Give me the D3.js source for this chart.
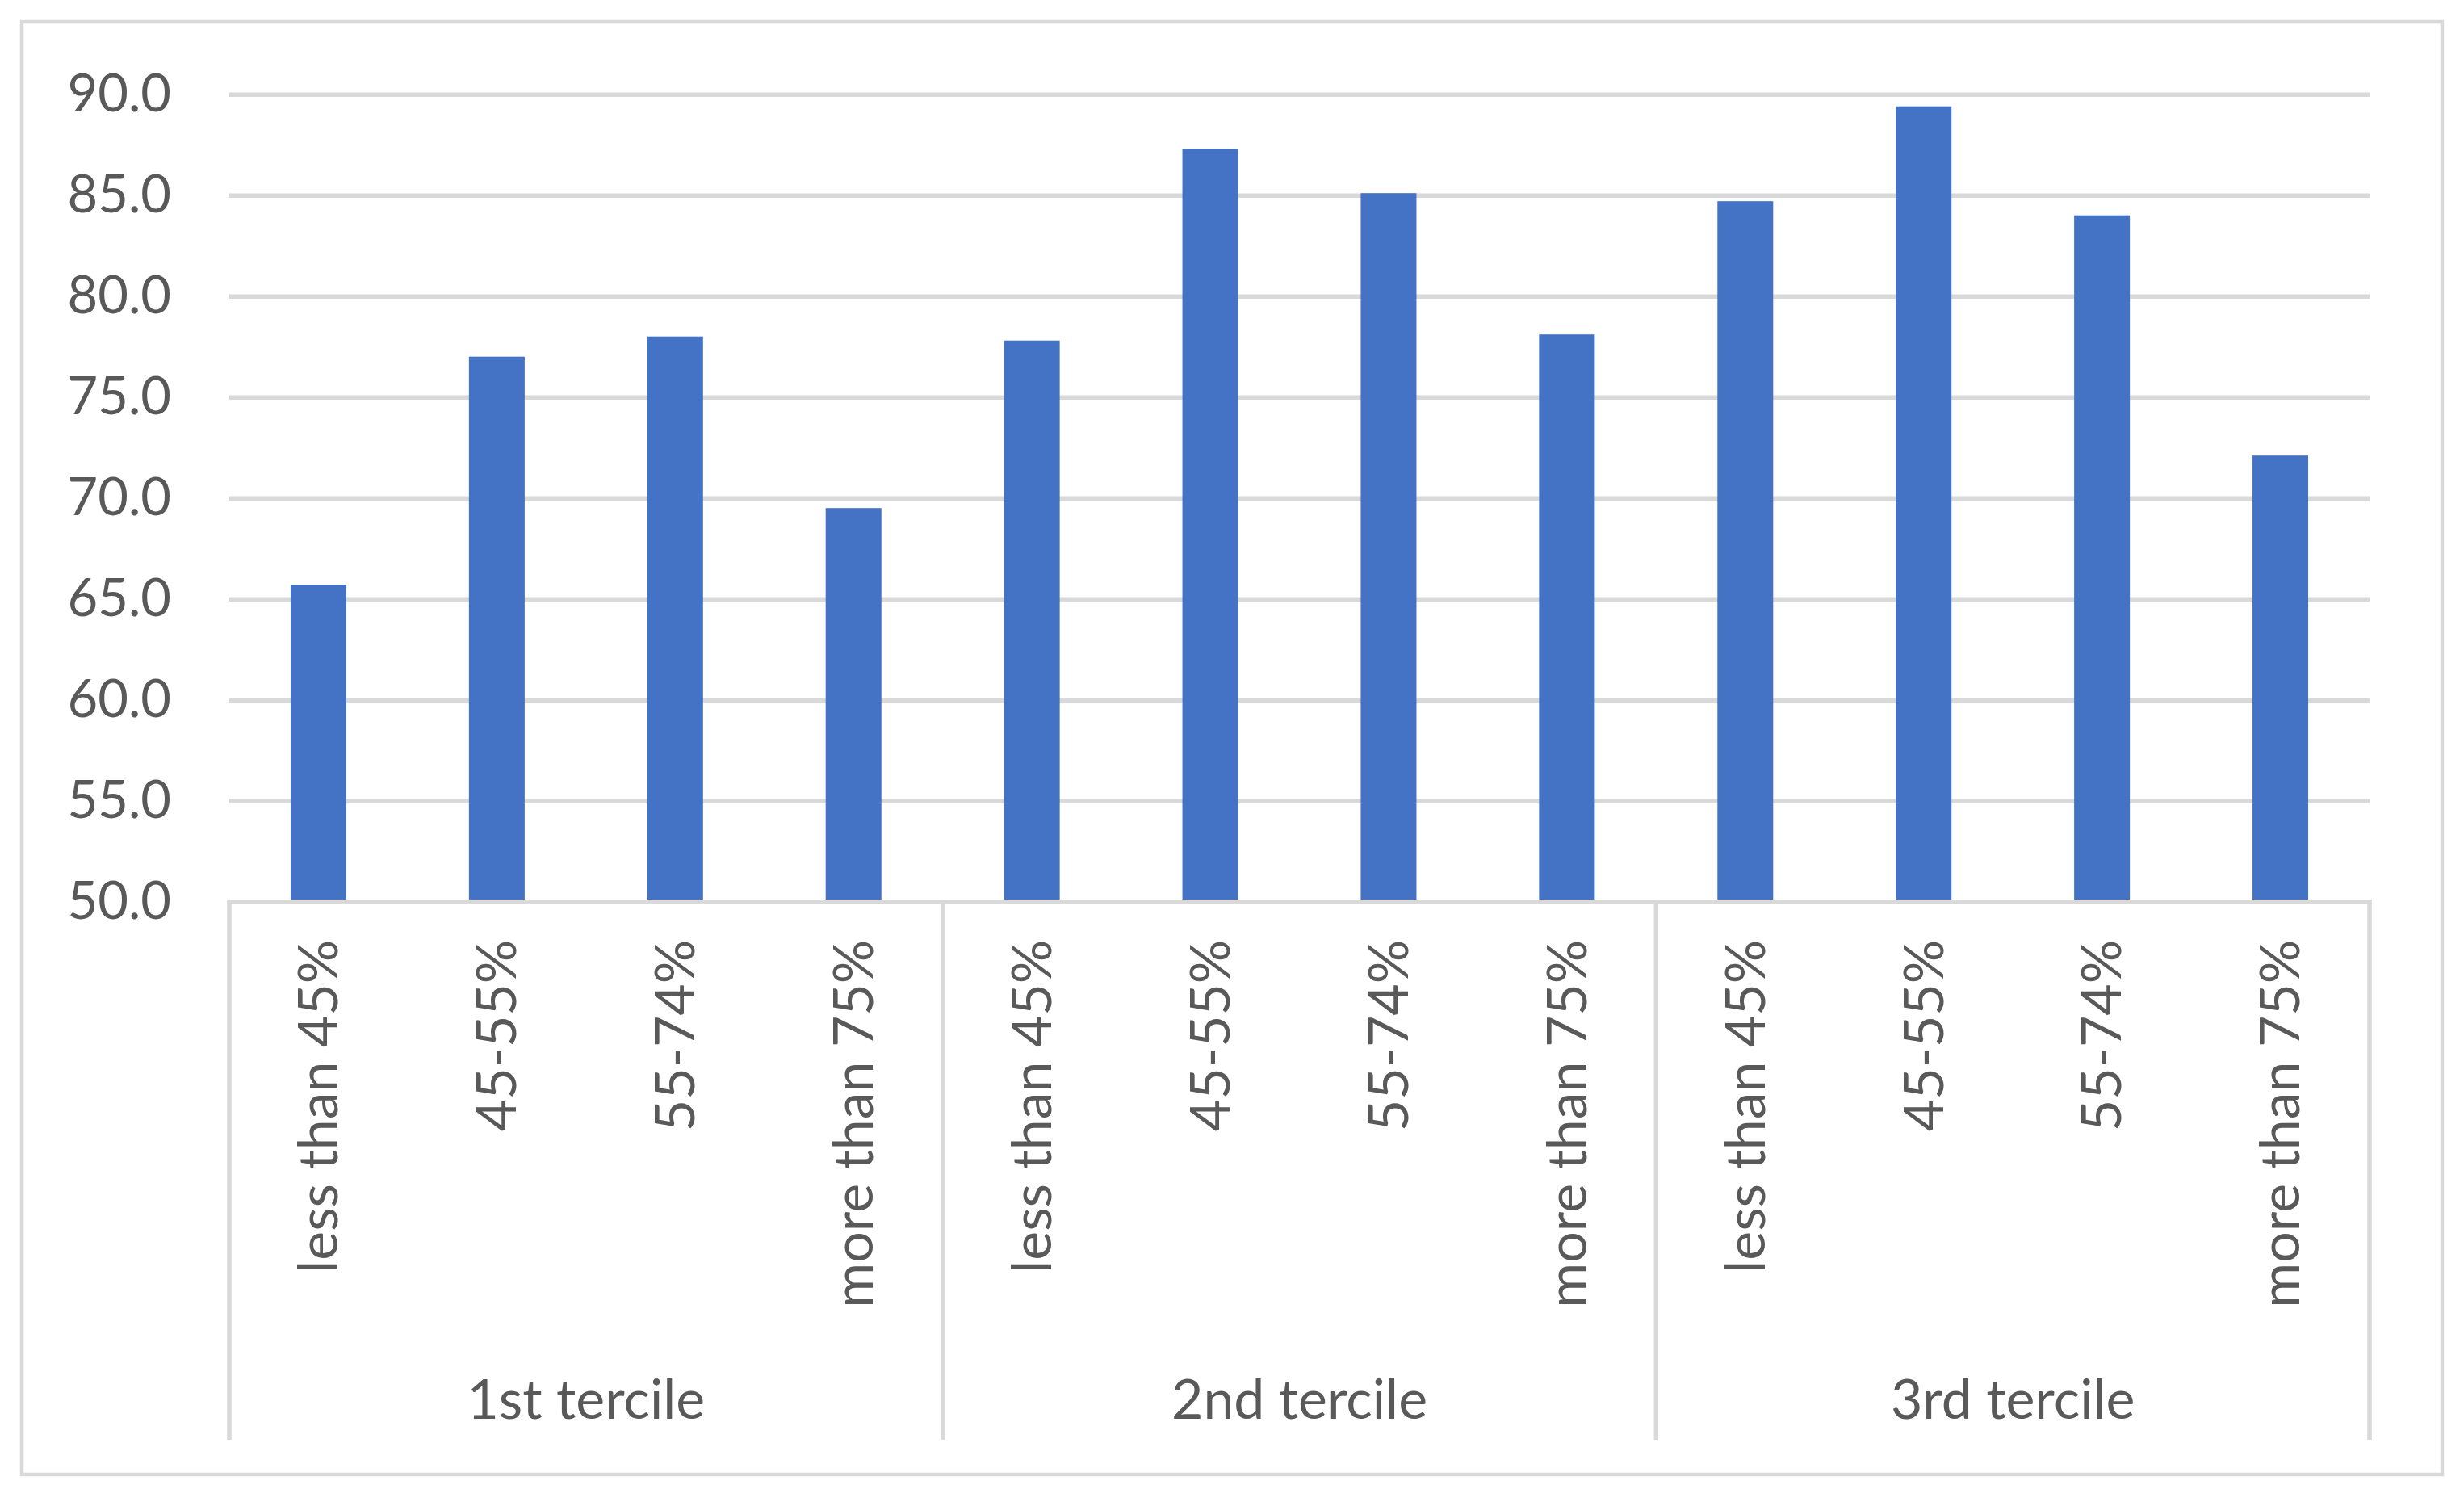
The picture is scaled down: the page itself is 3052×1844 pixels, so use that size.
<!DOCTYPE html>
<html>
<head>
<meta charset="utf-8">
<script src="https://cdn.jsdelivr.net/npm/d3@7"></script>
<style>
  html, body { margin: 0; padding: 0; background: #ffffff; }
  svg { display: block; }
  text { font-family: Lato, "Open Sans", "Noto Sans", sans-serif; fill: #595959; }
</style>
</head>
<body>
<svg id="chart" width="3052" height="1844"></svg>
<script>
// ---- data ----
const groups = ["1st tercile", "2nd tercile", "3rd tercile"];
const subCategories = ["less than 45%", "45-55%", "55-74%", "more than 75%"];
const values = [65.7, 77.0, 78.0, 69.5, 77.8, 87.3, 85.1, 78.1, 84.7, 89.4, 84.0, 72.1];
const yTicks = [50, 55, 60, 65, 70, 75, 80, 85, 90];

// build flat table
const rows = [];
groups.forEach((g, gi) => subCategories.forEach((c, ci) => {
  rows.push({ id: gi * subCategories.length + ci, group: g, cat: c, value: values[gi * subCategories.length + ci] });
}));

// ---- layout ----
const plot = { left: 284, right: 2935, top: 116.7, bottom: 1116.7 };
const yFontSize = 65;
const catFontSize = 68;
const gridColor = "#d9d9d9";

const svg = d3.select("#chart");

// outer chart border
svg.append("rect")
  .attr("x", 27).attr("y", 27)
  .attr("width", 2998).attr("height", 1799)
  .attr("fill", "#ffffff")
  .attr("stroke", gridColor)
  .attr("stroke-width", 4.5);

const x = d3.scaleBand()
  .domain(rows.map(d => d.id))
  .range([plot.left, plot.right])
  .paddingInner(0.6876)
  .paddingOuter(0.3438);

const xGroup = d3.scaleBand()
  .domain(groups)
  .range([plot.left, plot.right])
  .padding(0);

const y = d3.scaleLinear()
  .domain([50, 90])
  .range([plot.bottom, plot.top]);

// gridlines
const grid = svg.append("g")
  .attr("transform", `translate(${plot.left},0)`)
  .call(d3.axisLeft(y).tickValues(yTicks.filter(t => t > 50)).tickSize(-(plot.right - plot.left)).tickFormat(""));
grid.select(".domain").remove();
grid.selectAll("line").attr("stroke", gridColor).attr("stroke-width", 5.5);

// y axis labels
const yAxis = svg.append("g")
  .attr("transform", `translate(${plot.left},0)`)
  .call(d3.axisLeft(y).tickValues(yTicks).tickSize(0).tickPadding(72).tickFormat(d3.format(".1f")));
yAxis.select(".domain").remove();
yAxis.selectAll("text")
  .attr("font-size", yFontSize)
  .attr("font-family", "Lato, 'Open Sans', sans-serif")
  .attr("fill", "#595959");

// bars
svg.append("g").selectAll("rect")
  .data(rows)
  .join("rect")
  .attr("x", d => x(d.id))
  .attr("width", x.bandwidth())
  .attr("y", d => y(d.value))
  .attr("height", d => y(50) - y(d.value))
  .attr("fill", "#4472c4");

// category axis line
const axisG = svg.append("g");
axisG.append("line")
  .attr("x1", plot.left - 2.75).attr("x2", plot.right + 2.75)
  .attr("y1", y(50)).attr("y2", y(50))
  .attr("stroke", gridColor).attr("stroke-width", 5.5);

// group separators (vertical)
const sepBottom = 1783;
const sepX = groups.map(g => xGroup(g)).concat([xGroup(groups[groups.length - 1]) + xGroup.bandwidth()]);
axisG.selectAll("line.sep")
  .data(sepX)
  .join("line")
  .attr("class", "sep")
  .attr("x1", d => d).attr("x2", d => d)
  .attr("y1", y(50)).attr("y2", sepBottom)
  .attr("stroke", gridColor).attr("stroke-width", 5.5);

// sub-category labels (rotated)
const labelTop = y(50) + 47;
axisG.selectAll("text.cat")
  .data(rows)
  .join("text")
  .attr("class", "cat")
  .attr("transform", d => `translate(${x(d.id) + x.bandwidth() / 2},${labelTop}) rotate(-90)`)
  .attr("text-anchor", "end")
  .attr("dy", "0.35em")
  .attr("font-size", catFontSize)
  .text(d => d.cat);

// group labels
axisG.selectAll("text.grp")
  .data(groups)
  .join("text")
  .attr("class", "grp")
  .attr("x", g => xGroup(g) + xGroup.bandwidth() / 2)
  .attr("y", 1757)
  .attr("text-anchor", "middle")
  .attr("font-size", catFontSize)
  .text(g => g);
</script>
</body>
</html>
